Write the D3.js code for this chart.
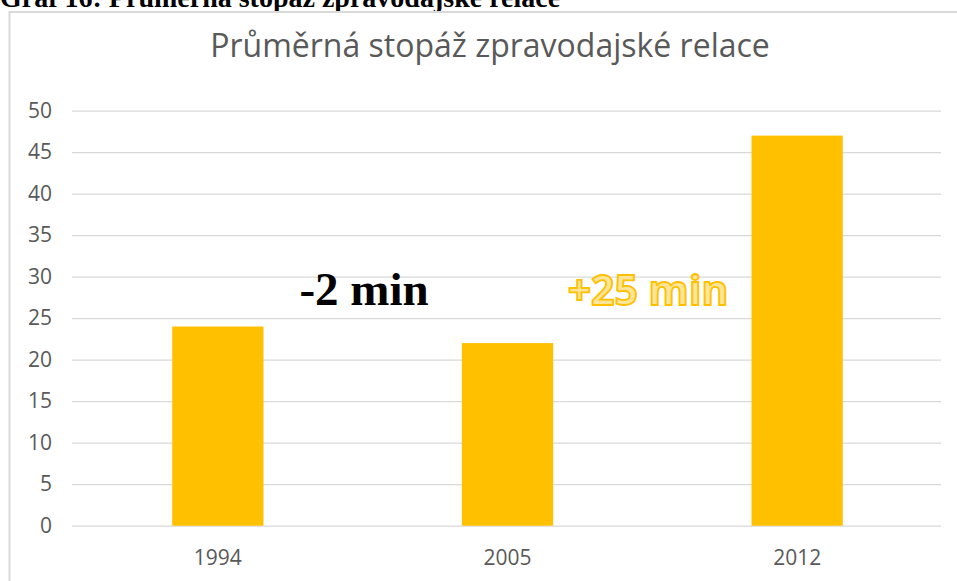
<!DOCTYPE html>
<html>
<head>
<meta charset="utf-8">
<script src="https://cdn.jsdelivr.net/npm/d3@7"></script>
<style>
  html, body { margin: 0; padding: 0; background: #fff; overflow: hidden; }
</style>
</head>
<body>
<div class="wrapper"></div>
<script>
const years = ["1994", "2005", "2012"];
const minutes = [24, 22, 47];
const yTicks = [0, 5, 10, 15, 20, 25, 30, 35, 40, 45, 50];
const caption = "Graf 16: Průměrná stopáž zpravodajské relace";
const chartTitle = "Průměrná stopáž zpravodajské relace";
const notes = ["-2 min", "+25 min"];

const width = 957, height = 581;
const dim = { left: 73, right: 942, top: 110.7, bottom: 525.7 };

const svg = d3.select(".wrapper").append("svg")
  .attr("width", width)
  .attr("height", height);

// caption from the document, cut at the top like in the source
svg.append("text")
  .attr("x", 0)
  .attr("y", 7)
  .attr("font-family", "Liberation Serif, serif")
  .attr("font-weight", "bold")
  .attr("font-size", "28px")
  .attr("fill", "#000")
  .text(caption);

// chart area border
svg.append("rect")
  .attr("x", 9.5)
  .attr("y", 12)
  .attr("width", 1000)
  .attr("height", 700)
  .attr("fill", "#fff")
  .attr("stroke", "#d9d9d9")
  .attr("stroke-width", 2);

svg.append("text")
  .attr("x", 490)
  .attr("y", 57)
  .attr("text-anchor", "middle")
  .attr("font-family", "Open Sans, sans-serif")
  .attr("font-size", "32px")
  .attr("fill", "#595959")
  .text(chartTitle);

const x = d3.scaleBand()
  .domain(years)
  .range([dim.left, dim.right])
  .paddingInner(0.685)
  .paddingOuter(0.3425);

const y = d3.scaleLinear()
  .domain([0, 50])
  .range([dim.bottom, dim.top]);

// gridlines + y labels
const yAxis = d3.axisLeft(y).tickValues(yTicks).tickSize(-(dim.right - dim.left)).tickPadding(20);
const gy = svg.append("g")
  .attr("transform", `translate(${dim.left - 1},0)`)
  .call(yAxis);
gy.select(".domain").remove();
gy.selectAll(".tick line").attr("stroke", "#d9d9d9").attr("stroke-width", 1.3);
gy.selectAll(".tick text")
  .attr("font-family", "Open Sans, sans-serif")
  .attr("font-size", "21px")
  .attr("fill", "#595959");

// bars
svg.append("g").selectAll("rect")
  .data(minutes)
  .enter()
  .append("rect")
  .attr("x", (d, i) => x(years[i]))
  .attr("width", x.bandwidth())
  .attr("y", d => y(d))
  .attr("height", d => y(0) - y(d))
  .attr("fill", "#ffc000");

// x labels
const gx = svg.append("g")
  .attr("transform", `translate(0,${dim.bottom})`)
  .call(d3.axisBottom(x).tickSize(0).tickPadding(24));
gx.select(".domain").remove();
gx.selectAll(".tick text")
  .attr("font-family", "Open Sans, sans-serif")
  .attr("font-size", "21px")
  .attr("fill", "#595959");

// annotations
svg.append("text")
  .attr("x", 364)
  .attr("y", 305)
  .attr("text-anchor", "middle")
  .attr("font-family", "Liberation Serif, serif")
  .attr("font-weight", "bold")
  .attr("font-size", "47px")
  .attr("fill", "#000")
  .text(notes[0]);

svg.append("text")
  .attr("x", 648)
  .attr("y", 305)
  .attr("text-anchor", "middle")
  .attr("font-family", "Open Sans, sans-serif")
  .attr("font-weight", "bold")
  .attr("font-size", "41px")
  .attr("fill", "#ffe597")
  .attr("stroke", "#ffc000")
  .attr("stroke-width", 1.8)
  .text(notes[1]);
</script>
</body>
</html>
